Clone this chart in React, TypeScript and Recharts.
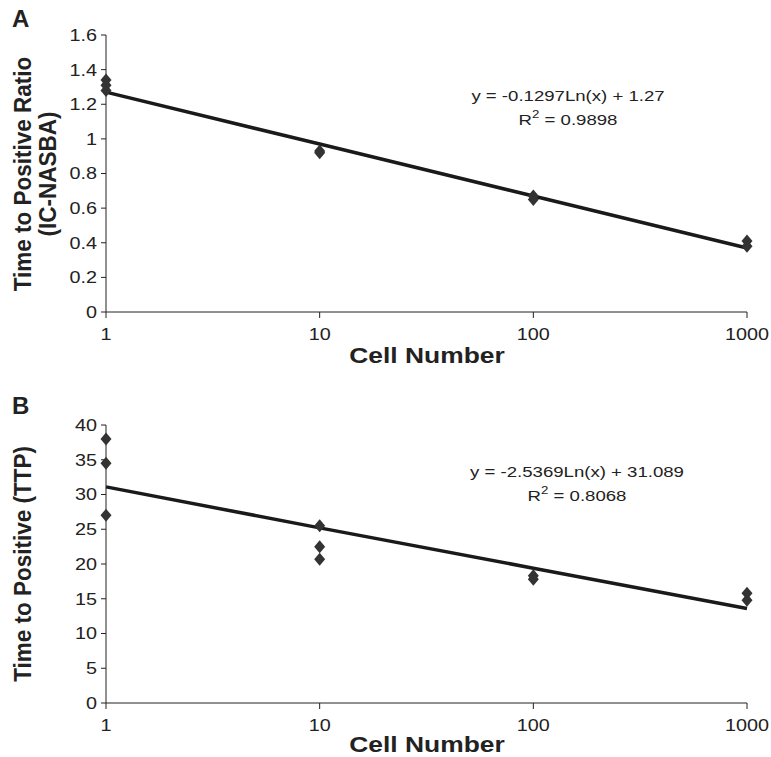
import React from 'react'
import { ComposedChart, Scatter, Line, XAxis, YAxis, Customized } from 'recharts'

// cell numbers on the log axis
const cellNumbers = [1, 10, 100, 1000]

// panel A: time to positive ratio (IC-NASBA)
const ratioX = [1, 1, 1, 10, 10, 100, 100, 1000, 1000]
const ratioY = [1.34, 1.31, 1.28, 0.93, 0.92, 0.67, 0.65, 0.41, 0.38]
const ratioTrend = [1.27, 0.97, 0.67, 0.37]
const ratioTicks = [0, 0.2, 0.4, 0.6, 0.8, 1, 1.2, 1.4, 1.6]

// panel B: time to positive (TTP)
const ttpX = [1, 1, 1, 10, 10, 10, 100, 100, 1000, 1000]
const ttpY = [38, 34.5, 27, 25.5, 22.5, 20.7, 18.3, 17.8, 15.8, 14.8]
const ttpTrend = [31.1, 25.2, 19.4, 13.6]
const ttpTicks = [0, 5, 10, 15, 20, 25, 30, 35, 40]

const FONT = '"Liberation Sans", Arial, sans-serif'
const INK = '#222'
const STRETCH = 1.2

const Diamond = (props: any) => {
    const { cx, cy } = props
    if (cx == null || cy == null) return null
    return <polygon points={`${cx},${cy - 6.5} ${cx + 5.5},${cy} ${cx},${cy + 6.5} ${cx - 5.5},${cy}`} fill="#333" />
}

const YTick = ({ x, y, payload }: any) => (
    <text transform={`translate(${x},${y}) scale(${STRETCH},1)`} textAnchor="end" dy="0.36em"
        fontFamily={FONT} fontSize={16.5} fill={INK}>{payload.value}</text>
)

const XTick = ({ x, y, payload }: any) => (
    <text transform={`translate(${x},${y}) scale(${STRETCH},1)`} textAnchor="middle" dy="0.72em"
        fontFamily={FONT} fontSize={16.5} fill={INK}>{payload.value}</text>
)

type PanelProps = {
    letter: string
    letterY: number
    yLines: string[]
    yCenter: number
    xTitleY: number
    eq: string
    r2: string
    eqX: number
    eqY: number
    xs: number[]
    ys: number[]
    trend: number[]
    ticks: number[]
    top: number
    height: number
    marginTop: number
    marginBottom: number
}

const Panel = (p: PanelProps) => {
    const points = p.xs.map((x, i) => ({ x, y: p.ys[i] }))
    const trendRows = cellNumbers.map((x, i) => ({ x, y: p.trend[i] }))
    const yMax = p.ticks[p.ticks.length - 1]

    const extras = () => (
        <g fontFamily={FONT} fill={INK}>
            <text x={12} y={p.letterY} fontSize={24} fontWeight="bold">{p.letter}</text>
            {p.yLines.map((t, i) => (
                <text key={t} transform={`translate(${31 + i * 25},${p.yCenter}) rotate(-90) scale(1,1.1)`}
                    textAnchor="middle" fontSize={22.5} fontWeight="bold">{t}</text>
            ))}
            <text transform={`translate(427,${p.xTitleY}) scale(${STRETCH},1)`} textAnchor="middle"
                fontSize={22} fontWeight="bold">Cell Number</text>
            <text transform={`translate(${p.eqX},${p.eqY}) scale(${STRETCH},1)`} textAnchor="middle" fontSize={15.5}>{p.eq}</text>
            <text transform={`translate(${p.eqX},${p.eqY + 24}) scale(${STRETCH},1)`} textAnchor="middle" fontSize={15.5}>
                <tspan>R</tspan>
                <tspan dy={-7} fontSize={11}>2</tspan>
                <tspan dy={7}>{' = ' + p.r2}</tspan>
            </text>
        </g>
    )

    return (
        <div style={{ position: 'absolute', left: 0, top: p.top }}>
            <ComposedChart width={771} height={p.height}
                margin={{ top: p.marginTop, right: 24, left: 0, bottom: p.marginBottom }}>
                <XAxis type="number" dataKey="x" scale="log" domain={[1, 1000]} ticks={cellNumbers}
                    height={50} tickSize={6} tickMargin={10} tick={<XTick />}
                    stroke={INK} tickLine={{ stroke: INK }} />
                <YAxis type="number" domain={[0, yMax]} ticks={p.ticks} width={106} tickSize={5} tickMargin={4}
                    tick={<YTick />} stroke={INK} tickLine={{ stroke: INK }} />
                <Line data={trendRows} dataKey="y" type="linear" stroke="#1a1a1a" strokeWidth={3.5}
                    dot={false} activeDot={false} isAnimationActive={false} />
                <Scatter data={points} dataKey="y" shape={<Diamond />} isAnimationActive={false} />
                <Customized component={extras} />
            </ComposedChart>
        </div>
    )
}

export default function App() {
    return (
        <div style={{ position: 'absolute', left: 0, top: 0, width: 771, height: 757, background: '#fff' }}>
            <Panel letter="A" letterY={27} yLines={['Time to Positive Ratio', '(IC-NASBA)']} yCenter={174}
                xTitleY={363} eq="y = -0.1297Ln(x) + 1.27" r2="0.9898" eqX={568} eqY={101}
                xs={ratioX} ys={ratioY} trend={ratioTrend} ticks={ratioTicks}
                top={0} height={380} marginTop={35} marginBottom={18} />
            <Panel letter="B" letterY={34} yLines={['Time to Positive (TTP)']} yCenter={184}
                xTitleY={372} eq="y = -2.5369Ln(x) + 31.089" r2="0.8068" eqX={577} eqY={97}
                xs={ttpX} ys={ttpY} trend={ttpTrend} ticks={ttpTicks}
                top={380} height={377} marginTop={45} marginBottom={4} />
        </div>
    )
}
